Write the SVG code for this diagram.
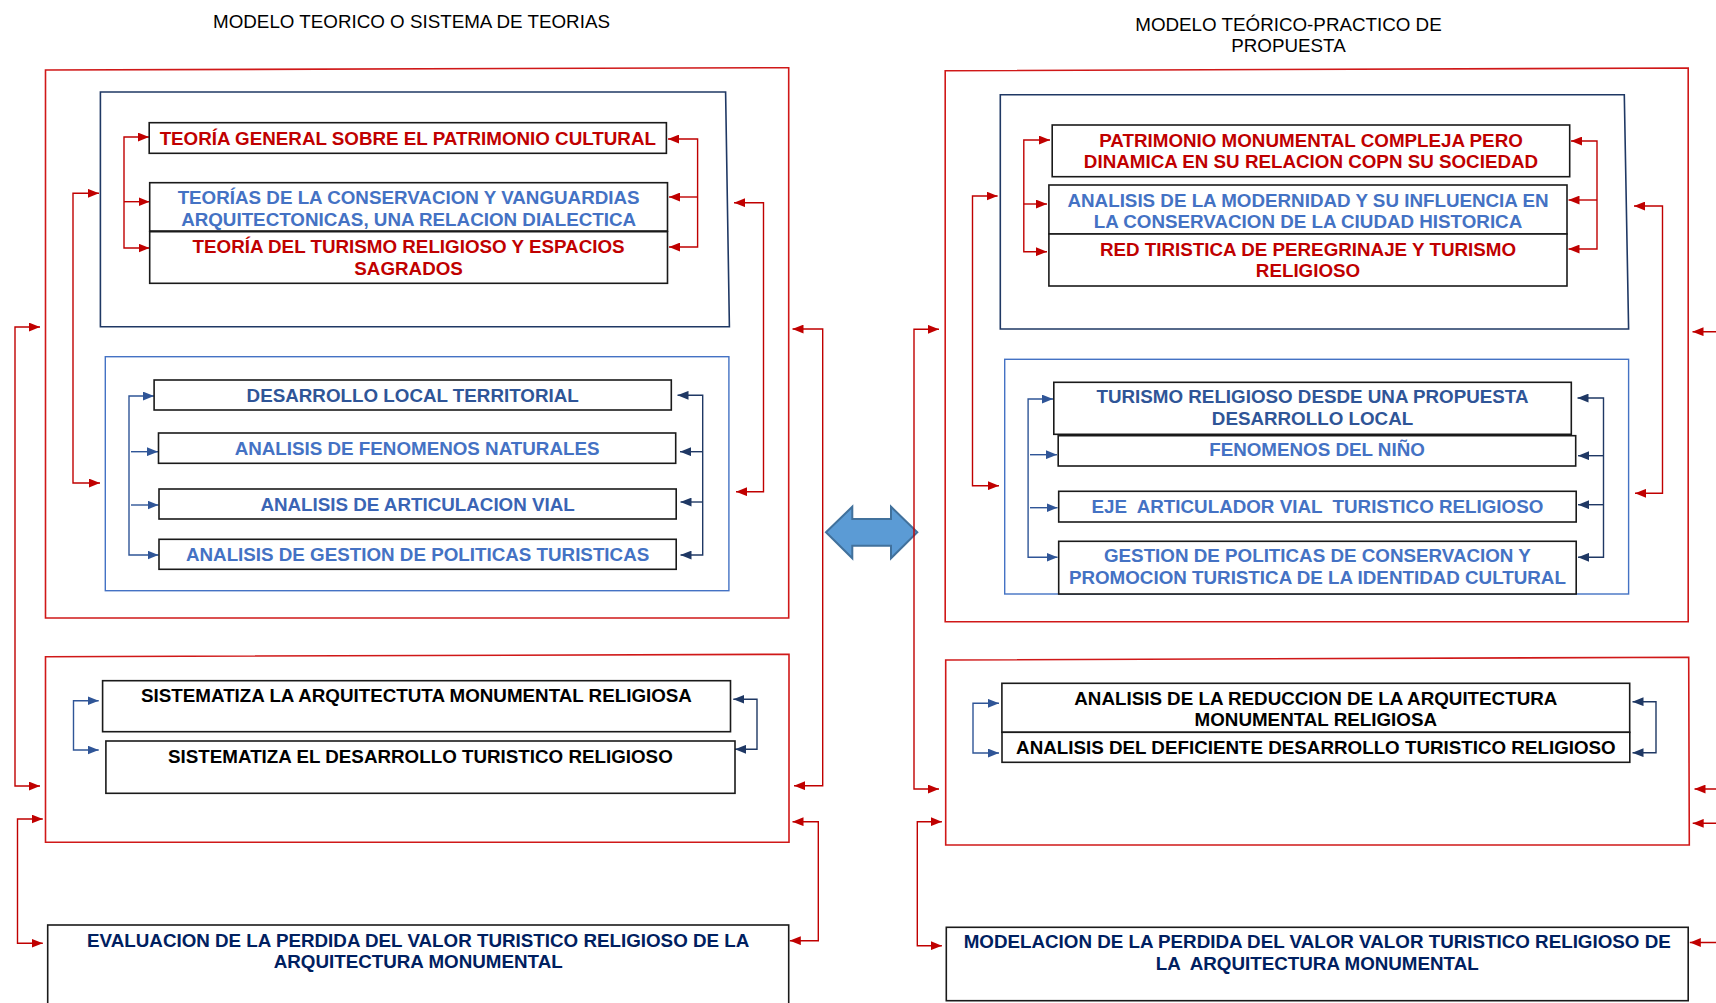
<svg xmlns="http://www.w3.org/2000/svg" width="1716" height="1003" viewBox="0 0 1716 1003">
<style>
text{font-family:"Liberation Sans",Arial,sans-serif;}
.title{font-size:18.8px;fill:#000;text-anchor:middle;}
.t{font-size:18.8px;font-weight:bold;text-anchor:middle;white-space:pre;}
.red{fill:#C00000;}
.blue{fill:#4472C4;}
.blue2{fill:#3A64B4;}
.dblue{fill:#2F5597;}
.navy{fill:#002060;}
.blk{fill:#000;}
.box{fill:#fff;stroke:#1a1a1a;stroke-width:1.6;}
.cred{fill:none;stroke:#D01818;stroke-width:1.6;}
.cnavy{fill:none;stroke:#1F3864;stroke-width:1.6;}
.clb{fill:none;stroke:#4472C4;stroke-width:1.4;}
.r{fill:none;stroke:#C00000;stroke-width:1.4;marker-end:url(#ar);}
.rb{fill:none;stroke:#C00000;stroke-width:1.4;marker-start:url(#ar);marker-end:url(#ar);}
.b{fill:none;stroke:#2F5597;stroke-width:1.4;marker-end:url(#ab);}
.bb{fill:none;stroke:#2F5597;stroke-width:1.4;marker-start:url(#ab);marker-end:url(#ab);}
.n{fill:none;stroke:#1F3864;stroke-width:1.4;marker-end:url(#an);}
.nb{fill:none;stroke:#1F3864;stroke-width:1.4;marker-start:url(#an);marker-end:url(#an);}
</style>
<defs>
<marker id="ar" viewBox="0 0 10 8" refX="10" refY="4" markerWidth="11" markerHeight="9" markerUnits="userSpaceOnUse" orient="auto-start-reverse"><path d="M0,0 L10,4 L0,8 Z" fill="#C00000"/></marker>
<marker id="ab" viewBox="0 0 10 8" refX="10" refY="4" markerWidth="11" markerHeight="9" markerUnits="userSpaceOnUse" orient="auto-start-reverse"><path d="M0,0 L10,4 L0,8 Z" fill="#2F5597"/></marker>
<marker id="an" viewBox="0 0 10 8" refX="10" refY="4" markerWidth="11" markerHeight="9" markerUnits="userSpaceOnUse" orient="auto-start-reverse"><path d="M0,0 L10,4 L0,8 Z" fill="#1F3864"/></marker>
</defs>
<rect width="1716" height="1003" fill="#fff"/>

<g id="titles">
<text class="title" x="411.5" y="28">MODELO TEORICO O SISTEMA DE TEORIAS</text>
<text class="title" x="1288.5" y="31">MODELO TEÓRICO-PRACTICO DE</text>
<text class="title" x="1288.5" y="51.7">PROPUESTA</text>
</g>

<g id="containers">
<path id="left-outer" class="cred" d="M45.5,70 L788.7,67.7 L788.7,618 L45.5,618 Z"/>
<path id="left-navy" class="cnavy" d="M100.4,92 L725.6,92 L729.4,326.7 L100.4,326.7 Z"/>
<rect id="left-lightblue" class="clb" x="105.3" y="356.7" width="623.6" height="234"/>
<path id="left-second" class="cred" d="M45.5,656.7 L789,654.3 L789,842.3 L45.5,842.3 Z"/>
<path id="right-outer" class="cred" d="M945.2,70.7 L1688.2,68 L1688.2,621.7 L945.2,621.7 Z"/>
<path id="right-navy" class="cnavy" d="M1000.3,94.7 L1624.3,94.7 L1628.6,329 L1000.3,329 Z"/>
<rect id="right-lightblue" class="clb" x="1004.7" y="359.3" width="623.9" height="234.7"/>
<path id="right-second" class="cred" d="M945.7,660 L1688.7,657.3 L1689.3,845 L945.7,845 Z"/>
</g>

<g id="double-arrow">
<polygon points="826,532.3 852.3,506.7 852.3,519 891,519 891,506.7 917.3,532.3 891,558.3 891,545.7 852.3,545.7 852.3,558.3" fill="#5B9BD5" stroke="#41719C" stroke-width="2" stroke-linejoin="miter"/>
</g>

<g id="connectors">
<path class="rb" d="M149,137 H124 V248 H149.5"/>
<path class="r" d="M124,201.7 H149.5"/>
<path class="rb" d="M668,139 H697.6 V247 H669"/>
<path class="r" d="M697.6,197 H669"/>
<path class="rb" d="M99,193.3 H73 V483 H100"/>
<path class="rb" d="M734,202.7 H763.5 V491.7 H736"/>
<path class="rb" d="M40,327 H15 V786 H40"/>
<path class="rb" d="M792.5,329 H822.7 V785.7 H794"/>
<path class="rb" d="M42.8,819 H17.5 V943.3 H42.8"/>
<path class="rb" d="M792.5,821.7 H818.3 V940.7 H789.8"/>
<path class="bb" d="M154,396 H129 V555 H158.5"/>
<path class="b" d="M131,451.7 H158"/>
<path class="b" d="M131,505 H158.5"/>
<path class="nb" d="M677.5,395.3 H702.7 V555 H680.5"/>
<path class="n" d="M702.7,451.7 H680"/>
<path class="n" d="M702.7,502 H680.5"/>
<path class="bb" d="M98.7,700.7 H73.5 V750 H98.7"/>
<path class="nb" d="M733.3,699.3 H757 V749.3 H735"/>
<path class="rb" d="M1050,140 H1023.8 V251.7 H1047"/>
<path class="r" d="M1023.8,204 H1047"/>
<path class="rb" d="M1571,141 H1597 V249 H1568.5"/>
<path class="r" d="M1597,200 H1568.5"/>
<path class="rb" d="M997.6,196 H972.5 V485.7 H999"/>
<path class="rb" d="M1634,206 H1662.5 V493.3 H1635"/>
<path class="rb" d="M939,329.3 H914 V789 H939"/>
<path class="rb" d="M1692.5,331.7 H1724 V789 H1694.5"/>
<path class="rb" d="M941.9,821.7 H917.3 V945.7 H941.9"/>
<path class="rb" d="M1692.7,823.3 H1724 V942.5 H1689.8"/>
<path class="bb" d="M1053,399 H1028.1 V557.3 H1057.5"/>
<path class="b" d="M1030,454.7 H1057"/>
<path class="b" d="M1030,507.7 H1057.5"/>
<path class="nb" d="M1577.5,398 H1603.5 V557.3 H1578"/>
<path class="n" d="M1603.5,455.7 H1578"/>
<path class="n" d="M1603.5,504.7 H1578"/>
<path class="bb" d="M999,703.3 H973 V753 H999"/>
<path class="nb" d="M1632.5,701.7 H1656 V752.7 H1632.5"/>
</g>

<g id="n1"><rect class="box" x="149.2" y="122.7" width="517.2" height="30.6"/><text class="t red" x="407.8" y="145">TEORÍA GENERAL SOBRE EL PATRIMONIO CULTURAL</text></g>
<g id="n2"><rect class="box" x="149.7" y="182.7" width="517.8" height="48.3"/><text class="t blue" x="408.6" y="204">TEORÍAS DE LA CONSERVACION Y VANGUARDIAS</text><text class="t blue" x="408.6" y="226">ARQUITECTONICAS, UNA RELACION DIALECTICA</text></g>
<g id="n3"><rect class="box" x="149.7" y="231.7" width="517.8" height="51.6"/><text class="t red" x="408.6" y="253">TEORÍA DEL TURISMO RELIGIOSO Y ESPACIOS</text><text class="t red" x="408.6" y="275">SAGRADOS</text></g>
<g id="n4"><rect class="box" x="154.1" y="380" width="517.2" height="30"/><text class="t dblue" x="412.7" y="401.7">DESARROLLO LOCAL TERRITORIAL</text></g>
<g id="n5"><rect class="box" x="158.5" y="433" width="517.2" height="30.3"/><text class="t blue" x="417.1" y="455">ANALISIS DE FENOMENOS NATURALES</text></g>
<g id="n6"><rect class="box" x="159" y="489" width="517.2" height="30"/><text class="t blue2" x="417.6" y="510.7">ANALISIS DE ARTICULACION VIAL</text></g>
<g id="n7"><rect class="box" x="159" y="539.3" width="517.2" height="30"/><text class="t blue" x="417.6" y="560.7">ANALISIS DE GESTION DE POLITICAS TURISTICAS</text></g>
<g id="n8"><rect class="box" x="102.6" y="680.7" width="627.9" height="51"/><text class="t blk" x="416.5" y="701.7">SISTEMATIZA LA ARQUITECTUTA MONUMENTAL RELIGIOSA</text></g>
<g id="n9"><rect class="box" x="105.9" y="741" width="629.1" height="52.3"/><text class="t blk" x="420.4" y="762.7">SISTEMATIZA EL DESARROLLO TURISTICO RELIGIOSO</text></g>
<g id="n10"><rect class="box" x="47.7" y="925" width="741" height="82"/><text class="t navy" x="418.2" y="946.7">EVALUACION DE LA PERDIDA DEL VALOR TURISTICO RELIGIOSO DE LA</text><text class="t navy" x="418.2" y="967.7">ARQUITECTURA MONUMENTAL</text></g>

<g id="n11"><rect class="box" x="1052.2" y="125" width="517.5" height="51.7"/><text class="t red" x="1311" y="146.7">PATRIMONIO MONUMENTAL COMPLEJA PERO</text><text class="t red" x="1311" y="167.7">DINAMICA EN SU RELACION COPN SU SOCIEDAD</text></g>
<g id="n12"><rect class="box" x="1048.9" y="185" width="518.1" height="49"/><text class="t blue" x="1308" y="206.7">ANALISIS DE LA MODERNIDAD Y SU INFLUENCIA EN</text><text class="t blue" x="1308" y="227.7">LA CONSERVACION DE LA CIUDAD HISTORICA</text></g>
<g id="n13"><rect class="box" x="1048.9" y="234" width="518.1" height="52"/><text class="t red" x="1308" y="256">RED TIRISTICA DE PEREGRINAJE Y TURISMO</text><text class="t red" x="1308" y="276.7">RELIGIOSO</text></g>
<g id="n14"><rect class="box" x="1053.8" y="382.3" width="517.5" height="52"/><text class="t dblue" x="1312.5" y="403.3">TURISMO RELIGIOSO DESDE UNA PROPUESTA</text><text class="t dblue" x="1312.5" y="425">DESARROLLO LOCAL</text></g>
<g id="n15"><rect class="box" x="1058.2" y="435.7" width="517.5" height="30.3"/><text class="t blue" x="1317" y="456">FENOMENOS DEL NIÑO</text></g>
<g id="n16"><rect class="box" x="1058.7" y="491.3" width="517.5" height="30.7"/><text class="t blue" x="1317.4" y="512.7">EJE  ARTICULADOR VIAL  TURISTICO RELIGIOSO</text></g>
<g id="n17"><rect class="box" x="1058.7" y="541.3" width="517.5" height="52.7"/><text class="t blue" x="1317.4" y="562.3">GESTION DE POLITICAS DE CONSERVACION Y</text><text class="t blue" x="1317.4" y="584.3">PROMOCION TURISTICA DE LA IDENTIDAD CULTURAL</text></g>
<g id="n18"><rect class="box" x="1001.9" y="683.3" width="627.8" height="49"/><text class="t blk" x="1315.8" y="705">ANALISIS DE LA REDUCCION DE LA ARQUITECTURA</text><text class="t blk" x="1315.8" y="726">MONUMENTAL RELIGIOSA</text></g>
<g id="n19"><rect class="box" x="1002" y="732.3" width="627.8" height="30"/><text class="t blk" x="1315.9" y="754">ANALISIS DEL DEFICIENTE DESARROLLO TURISTICO RELIGIOSO</text></g>
<g id="n20"><rect class="box" x="946.3" y="927.3" width="741.9" height="73.4"/><text class="t navy" x="1317.2" y="948.3">MODELACION DE LA PERDIDA DEL VALOR VALOR TURISTICO RELIGIOSO DE</text><text class="t navy" x="1317.2" y="970">LA  ARQUITECTURA MONUMENTAL</text></g>
</svg>
